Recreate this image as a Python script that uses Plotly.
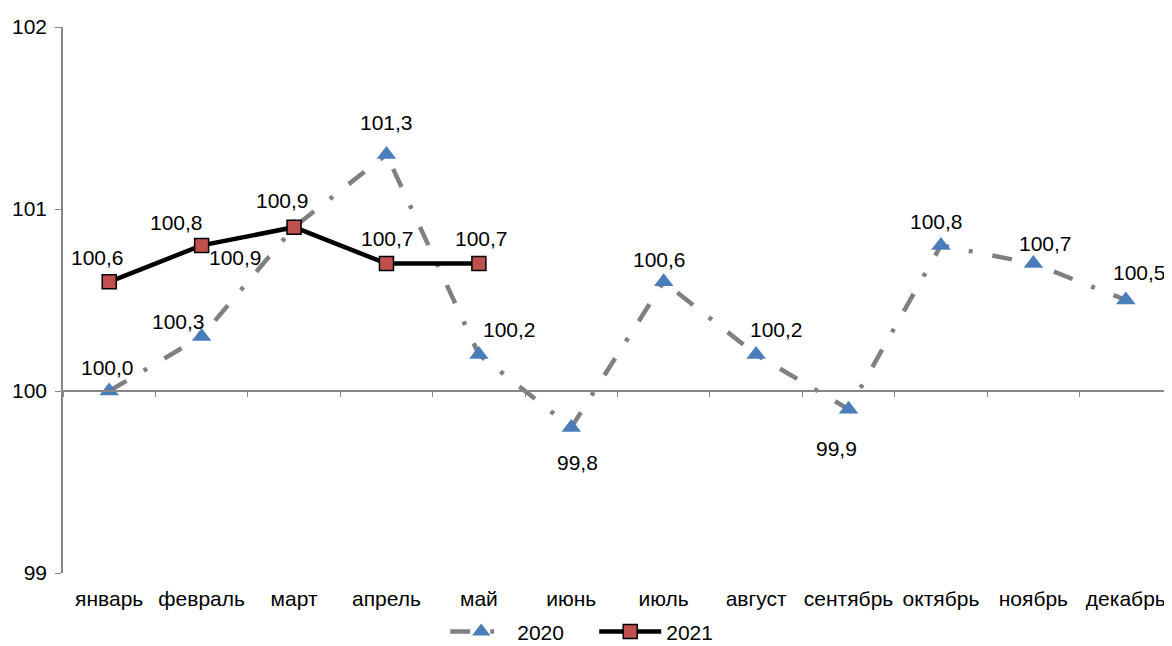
import plotly.graph_objects as go

months = ["январь", "февраль", "март", "апрель", "май", "июнь", "июль",
          "август", "сентябрь", "октябрь", "ноябрь", "декабрь"]
v2020 = [100.0, 100.3, 100.9, 101.3, 100.2, 99.8, 100.6, 100.2, 99.9, 100.8, 100.7, 100.5]
v2021 = [100.6, 100.8, 100.9, 100.7, 100.7]

# label offsets in pixels (dx, dy; dy positive = up)
off2020 = [(-2, 24), (-23, 15), (-59, -30), (0, 32), (31, 25), (6, -35),
           (-4, 22), (20, 25), (-12, -39), (-4, 24), (12, 20), (14, 28)]
off2021 = [(-12, 24), (-25, 23), (-12, 27), (1, 25), (3, 25)]

FONT = "Liberation Sans, Arial, sans-serif"
FS = 21
GREY = "#808080"


def fmt(v):
    return f"{v:.1f}".replace(".", ",")


fig = go.Figure()
fig.add_trace(go.Scatter(
    x=months, y=v2020, name="2020", mode="lines+markers",
    line=dict(color=GREY, width=4.5, dash="20px,20px,4px,20px"),
    marker=dict(symbol="triangle-up", size=17, color="#4A7EBB"),
))
fig.add_trace(go.Scatter(
    x=months[:len(v2021)], y=v2021, name="2021", mode="lines+markers",
    line=dict(color="black", width=4.5),
    marker=dict(symbol="square", size=14, color="#C0504D",
                line=dict(color="black", width=1.5)),
))
# helper trace for the bottom category label axis
fig.add_trace(go.Scatter(
    x=months, y=v2020, xaxis="x2", mode="markers",
    marker=dict(opacity=0), showlegend=False, hoverinfo="skip",
))

for m, v, (dx, dy) in zip(months, v2020, off2020):
    fig.add_annotation(x=m, y=v, text=fmt(v), showarrow=False,
                       xshift=dx, yshift=dy, font=dict(size=FS, color="black", family=FONT))
for m, v, (dx, dy) in zip(months, v2021, off2021):
    fig.add_annotation(x=m, y=v, text=fmt(v), showarrow=False,
                       xshift=dx, yshift=dy, font=dict(size=FS, color="black", family=FONT))

fig.update_layout(
    width=1164, height=638,
    margin=dict(l=55, r=0, t=19, b=73, autoexpand=False),
    paper_bgcolor="white", plot_bgcolor="white",
    font=dict(family=FONT, size=FS, color="black"),
    showlegend=True,
    legend=dict(orientation="h", x=0.479, xanchor="center", y=-0.108, yanchor="middle",
                font=dict(size=FS), itemwidth=62, entrywidth=72,
                bgcolor="rgba(0,0,0,0)"),
    xaxis=dict(type="category", categoryorder="array", categoryarray=months,
               range=[-0.5, 11.5], anchor="free", position=1 / 3, automargin=False,
               showline=True, linecolor="#868686", linewidth=1.5,
               ticks="outside", tickson="boundaries", ticklen=5, tickcolor="#868686",
               showticklabels=False, showgrid=False, zeroline=False, fixedrange=True),
    xaxis2=dict(type="category", categoryorder="array", categoryarray=months,
                range=[-0.5, 11.5], overlaying="x", anchor="y", side="bottom",
                automargin=False,
                showline=False, ticks="", showticklabels=True, showgrid=False,
                ticklabelstandoff=11, tickfont=dict(size=FS)),
    yaxis=dict(range=[99, 102], dtick=1, showline=True, linecolor="#868686", linewidth=1.5,
               automargin=False,
               ticks="outside", ticklen=6, tickcolor="#868686", showgrid=False,
               zeroline=False, tickfont=dict(size=FS), ticklabelstandoff=4),
)

fig.write_html("out.html")
